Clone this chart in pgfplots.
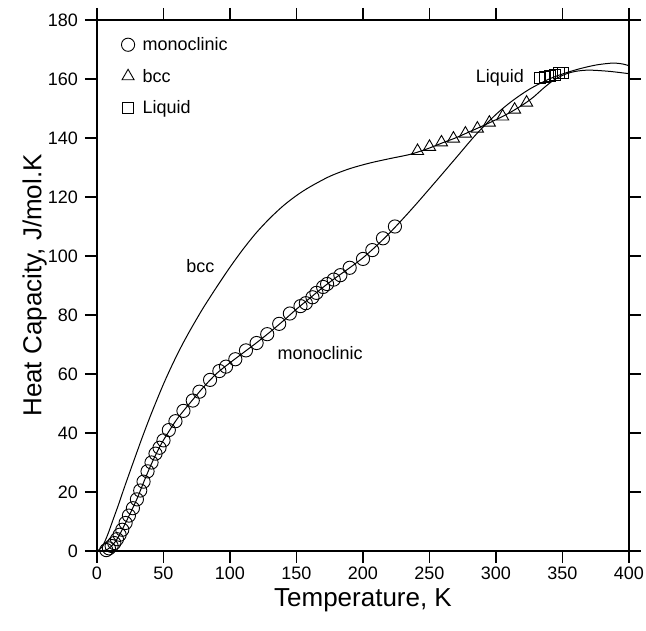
\documentclass[border=0pt]{standalone}
\usepackage{fontspec}
\setmainfont{Liberation Sans}
\usepackage{pgfplots}
\pgfplotsset{compat=1.18}

% monoclinic data points
\pgfplotstableread{
T Cp
7 0.3
9 0.9
11 1.7
13 2.7
15 4.0
17 5.5
19 7.2
21.5 9.5
24 12.0
27 14.5
30 17.5
32.5 20.5
35 23.5
38 27
41 30
44 33
47 35
50 37.5
54 41
59 44
65 47.5
72 51
77 54
85 58
92 61
97 62.5
104 65
112 68
120 70.5
128 73.5
137 77
145 80.5
153 83
157 84
162 86
165 87.5
170 89.5
173 90.5
178 92
183 93.5
190 96
200 99
207 102
215 106
224 110
}\monodata

% bcc data points
\pgfplotstableread{
T Cp
241 135.6
250 137
259 138.5
268 139.8
277 141.5
286 143.2
295 145.2
305 147.3
314 149.6
323 152
}\bccdata

% liquid data points
\pgfplotstableread{
T Cp
333 160.2
337 160.6
340.5 161
344 161.5
347.5 161.9
350.5 162.2
}\liqdata

% fitted curves
\pgfplotstableread{
T Cp
0 0
5 0.1
8 0.6
11 1.7
14 3.3
17 5.5
20 8.2
25 12.8
30 17.6
35 23.2
40 28.6
45 33.4
50 37.6
60 44.6
70 50.2
80 55.5
90 60.2
100 63.8
110 67.2
120 70.6
130 74.2
140 78
150 82
160 85.7
170 89.4
180 92.8
190 96
200 99.4
210 103.4
220 107.8
230 112.6
240 117.6
255 125.4
270 133.3
285 141.2
300 148
312 152.5
325 156.5
340 160
352 162
364 163.6
376 164.8
388 165.4
395 165.1
400 164.5
}\monofit

\pgfplotstableread{
T Cp
0 0
4 1.5
8 5.5
12 10.5
16 15.5
20 20.8
25 27.2
30 33.5
35 39.7
40 45.6
45 51.2
50 56.6
55 61.6
60 66.3
65 70.7
70 74.8
75 78.7
80 82.5
90 89.5
100 96.2
110 102.4
120 108
130 112.8
140 117
150 120.5
160 123.4
175 127
190 129.6
205 131.5
220 133
235 134.4
245 135.8
250 136.6
260 138.4
270 140.1
280 142.1
290 144.1
300 146.2
310 148.5
320 151.2
328 153.8
336 157
344 159.8
352 161.6
360 162.6
370 163
385 162.6
400 161.8
}\bccfit

\begin{document}
\begin{tikzpicture}
\begin{axis}[
  scale only axis,
  width=532pt, height=531pt,
  xmin=0, xmax=400, ymin=0, ymax=180,
  xtick distance=50, ytick distance=20,
  tick align=outside,
  major tick length=12pt,
  axis line style={line width=1.2pt},
  every tick/.style={black, line width=1.2pt},
  tick label style={font=\fontsize{18}{20}\selectfont},
  yticklabel style={inner xsep=7pt},
  /pgf/number format/assume math mode=true,
  xlabel={Temperature, K},
  ylabel={Heat Capacity, J/mol.K},
  label style={font=\fontsize{26}{30}\selectfont},
  xlabel style={at={(axis description cs:0.5,-0.092)}, anchor=center},
  ylabel style={at={(axis description cs:-0.117,0.5)}, anchor=center},
  legend style={draw=none, fill=none, at={(axis description cs:0.04,0.975)},
    anchor=north west, font=\fontsize{18}{20}\selectfont, row sep=13pt,
    /tikz/column 1/.style={column sep=6pt}},
  legend cell align=left,
  legend image code/.code={\draw[#1] plot coordinates {(0pt,0pt)};},
]
\coordinate (o) at (rel axis cs:0,0);
\addplot[black, line width=1pt, smooth, forget plot] table[x=T,y=Cp] {\monofit};
\addplot[black, line width=1pt, smooth, forget plot] table[x=T,y=Cp] {\bccfit};
\addplot[only marks, mark=o, mark size=6.6pt, mark options={line width=0.9pt}] table[x=T,y=Cp] {\monodata};
\addlegendentry{monoclinic}
\addplot[only marks, mark=triangle, mark size=7pt, mark options={line width=0.9pt}] table[x=T,y=Cp] {\bccdata};
\addlegendentry{bcc}
\addplot[only marks, mark=square, mark size=5.5pt, mark options={line width=0.9pt}] table[x=T,y=Cp] {\liqdata};
\addlegendentry{Liquid}
\node[font=\fontsize{18}{20}\selectfont] at (axis cs:77.8,96.6) {bcc};
\node[font=\fontsize{18}{20}\selectfont] at (axis cs:167.7,67.1) {monoclinic};
\node[font=\fontsize{18}{20}\selectfont] at (axis cs:303,160.3) {Liquid};
\end{axis}
\pgfresetboundingbox
\path (o) ++(-97pt,-80pt) rectangle ++(646pt,631pt);
\end{tikzpicture}
\end{document}
